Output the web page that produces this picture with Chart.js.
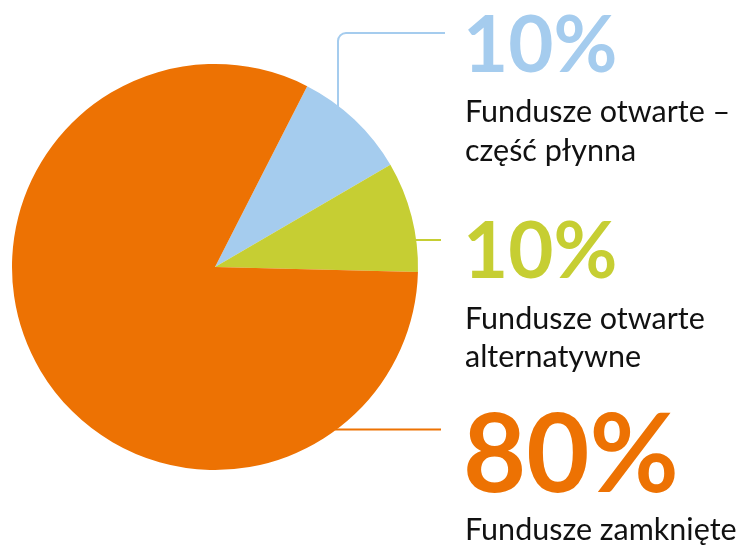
<!DOCTYPE html>
<html>
<head>
<meta charset="utf-8">
<script src="https://cdn.jsdelivr.net/npm/chart.js@4.4.0/dist/chart.umd.min.js"></script>
<style>
  html, body { margin: 0; padding: 0; background: #ffffff; }
  #wrap { width: 749px; height: 545px; position: relative; }
</style>
</head>
<body>
<div id="wrap"><canvas id="c" width="749" height="545"></canvas></div>
<script>
// ---- data ----
const categories = ['Fundusze otwarte – część płynna', 'Fundusze otwarte alternatywne', 'Fundusze zamknięte'];
const values = [9.1, 8.8, 82.1];            // slice sizes as drawn
const percentLabels = ['10%', '10%', '80%'];
const descLines = [
  ['Fundusze otwarte –', 'część płynna'],
  ['Fundusze otwarte', 'alternatywne'],
  ['Fundusze zamknięte']
];
const colors = ['#A5CCEE', '#C6CE33', '#ED7203'];

// ---- label / leader layout ----
const labelX = 465;
const pctSize = [78, 78, 109];
const pctBaseline = [72, 278, 492];
const descBaselines = [[122, 161], [329, 367], [540]];

const leaderPlugin = {
  id: 'leaders',
  beforeDatasetsDraw(chart) {
    const ctx = chart.ctx;
    const arc = chart.getDatasetMeta(0).data[0];
    const cx = arc.x, cy = arc.y, r = arc.outerRadius;
    ctx.save();
    ctx.lineWidth = 2;
    // blue: vertical then rounded corner to horizontal
    ctx.strokeStyle = colors[0];
    const bx = 338, by = 33, cr = 8, bEnd = 445;
    const bStart = cy - Math.sqrt(r * r - (bx - cx) * (bx - cx)) + 2;
    ctx.beginPath();
    ctx.moveTo(bx, bStart);
    ctx.lineTo(bx, by + cr);
    ctx.arcTo(bx, by, bx + cr, by, cr);
    ctx.lineTo(bEnd, by);
    ctx.stroke();
    // green: horizontal
    ctx.strokeStyle = colors[1];
    const gy = 240;
    ctx.beginPath();
    ctx.moveTo(cx + Math.sqrt(r * r - (gy - cy) * (gy - cy)) - 2, gy);
    ctx.lineTo(441, gy);
    ctx.stroke();
    // orange: horizontal
    ctx.strokeStyle = colors[2];
    const oy = 429.5;
    ctx.beginPath();
    ctx.moveTo(cx + Math.sqrt(r * r - (oy - cy) * (oy - cy)) - 2, oy);
    ctx.lineTo(441, oy);
    ctx.stroke();
    ctx.restore();
  },
  afterDraw(chart) {
    const ctx = chart.ctx;
    ctx.save();
    ctx.textAlign = 'left';
    ctx.textBaseline = 'alphabetic';
    for (let i = 0; i < percentLabels.length; i++) {
      ctx.fillStyle = colors[i];
      ctx.font = '700 ' + pctSize[i] + 'px Lato';
      ctx.fillText(percentLabels[i], labelX - 2, pctBaseline[i]);
      ctx.fillStyle = '#111111';
      ctx.font = '400 30.5px Lato';
      descLines[i].forEach((t, j) => ctx.fillText(t, labelX, descBaselines[i][j]));
    }
    ctx.restore();
  }
};

function draw() {
  new Chart(document.getElementById('c'), {
    type: 'pie',
    data: {
      labels: categories,
      datasets: [{
        data: values,
        backgroundColor: colors,
        borderWidth: 0
      }]
    },
    options: {
      responsive: false,
      animation: false,
      rotation: 27,
      layout: { padding: { left: 12, top: 64, right: 331, bottom: 75 } },
      plugins: { legend: { display: false }, tooltip: { enabled: false } }
    },
    plugins: [leaderPlugin]
  });
}

Promise.all([
  document.fonts.load('700 78px Lato'),
  document.fonts.load('400 30px Lato')
]).then(draw, draw);
</script>
</body>
</html>
